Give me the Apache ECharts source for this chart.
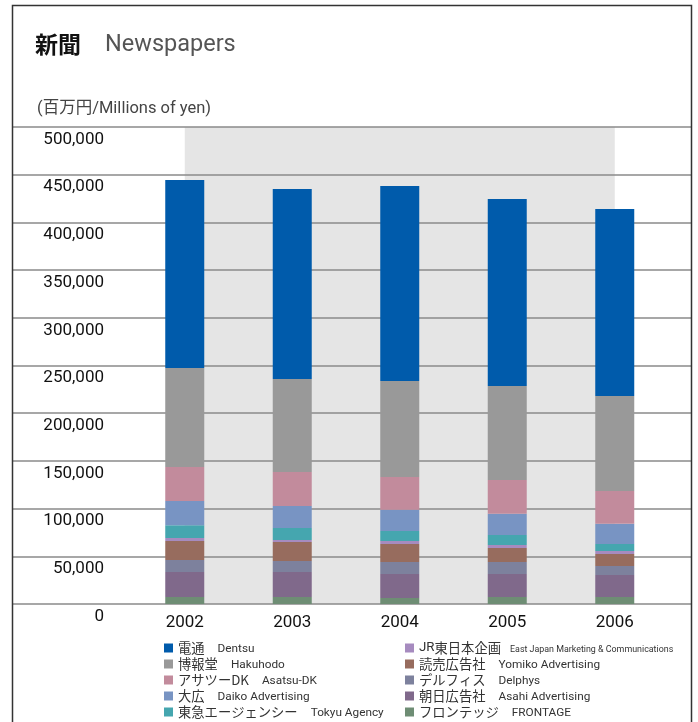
<!DOCTYPE html>
<html><head><meta charset="utf-8">
<script src="https://cdn.jsdelivr.net/npm/echarts@6/dist/echarts.min.js"></script>
<style>html,body{margin:0;padding:0;background:#fff}#c{width:698px;height:722px}</style>
</head><body><div id="c"></div>
<script>
const years = ['2002','2003','2004','2005','2006'];
const yTicks = [0,50000,100000,150000,200000,250000,300000,350000,400000,450000,500000];
// values in millions of yen
const dentsu   = [197000,199200,204400,196000,196000];
const hakuhodo = [103800, 97400,100600, 98500, 99600];
const asatsu   = [ 35600, 35700, 34200, 35300, 34200];
const daiko    = [ 25500, 23000, 22400, 22400, 21300];
const tokyu    = [ 13300, 12600, 10500, 10500,  7300];
const jreast   = [  3200,  2100,  3100,  3100,  3200];
const yomiko   = [ 19900, 19900, 18900, 14700, 12600];
const delphys  = [ 12600, 11600, 12600, 12600,  9400];
const asahi    = [ 26200, 26200, 25100, 24100, 23100];
const frontage = [  7300,  7300,  6300,  7300,  7300];

const jpNames = ['電通','博報堂','アサツーDK','大広','東急エージェンシー','JR東日本企画','読売広告社','デルフィス','朝日広告社','フロンテッジ'];
const enNames = ['Dentsu','Hakuhodo','Asatsu-DK','Daiko Advertising','Tokyu Agency','East Japan Marketing & Communications','Yomiko Advertising','Delphys','Asahi Advertising','FRONTAGE'];
const seriesData = [dentsu,hakuhodo,asatsu,daiko,tokyu,jreast,yomiko,delphys,asahi,frontage];
const colors = ['#005bab','#999999','#c28b9c','#7894c3','#45a6af','#a68bbf','#976c5e','#7d819d','#80698b','#6e8d74'];

const LATIN = "Roboto,'Noto Sans CJK JP',sans-serif";
const CJK = "'Noto Sans CJK JP',Roboto,sans-serif";

const series = [];
// stack from bottom: reverse legend order
for (let i = seriesData.length - 1; i >= 0; i--) {
  series.push({
    name: jpNames[i], type: 'bar', stack: 'total', xAxisIndex: 1, yAxisIndex: 1,
    barWidth: 39, z: 3,
    itemStyle: { color: colors[i] },
    data: seriesData[i]
  });
}
series.push({
  name: '_bg', type: 'line', xAxisIndex: 1, yAxisIndex: 1, data: [], z: 1, silent: true,
  markArea: { silent: true, itemStyle: { color: '#e5e5e5' },
    data: [[{ xAxis: years[0] }, { xAxis: years[years.length - 1] }]] }
});

function legendFmt(name) {
  const i = jpNames.indexOf(name);
  let jp = '{j|' + name + '}';
  if (name.indexOf('JR') === 0) jp = '{r|JR}{j|' + name.slice(2) + '}';
  return jp + (i === 5 ? '{h| }{s|' : '{g| }{e|') + enNames[i] + '}';
}
const legendText = {
  lineHeight: 16,
  rich: {
    j: { fontFamily: CJK, fontSize: 13.3, color: '#333', lineHeight: 16 },
    r: { fontFamily: LATIN, fontSize: 13.3, color: '#333', lineHeight: 16 },
    e: { fontFamily: LATIN, fontSize: 11.8, color: '#333', lineHeight: 16, padding: [3,0,0,0] },
    s: { fontFamily: LATIN, fontSize: 8.9, color: '#333', lineHeight: 16, padding: [3,0,0,0] },
    g: { width: 13, lineHeight: 16 },
    h: { width: 9, lineHeight: 16 }
  }
};

const chart = echarts.init(document.getElementById('c'));
chart.setOption({
  animation: false,
  color: colors,
  title: [
    { text: '{a|新聞}{g| }{b|Newspapers}', left: 30, top: 28,
      textStyle: { rich: {
        a: { fontFamily: CJK, fontSize: 23, fontWeight: 'bold', color: '#111' },
        g: { width: 24 },
        b: { fontFamily: LATIN, fontSize: 23.5, fontWeight: 'normal', color: '#555' } } } },
    { text: '(百万円/Millions of yen)', left: 32, top: 96,
      textStyle: { fontFamily: LATIN, fontSize: 16.5, fontWeight: 'normal', color: '#444' } }
  ],
  legend: [
    { data: jpNames.slice(0,5), orient: 'vertical', left: 164, top: 640, height: 120, padding: 0,
      itemWidth: 9, itemHeight: 9, itemGap: 0, itemTextGap: 8, icon: 'rect',
      formatter: legendFmt, textStyle: legendText, selectedMode: false },
    { data: jpNames.slice(5), orient: 'vertical', left: 405, top: 640, height: 120, padding: 0,
      itemWidth: 9, itemHeight: 9, itemGap: 0, itemTextGap: 7, icon: 'rect',
      formatter: legendFmt, textStyle: legendText, selectedMode: false }
  ],
  grid: [
    { left: 13, right: 7, top: 127, bottom: 118 },
    { left: 131, right: 29.5, top: 127, bottom: 118 }
  ],
  xAxis: [
    { gridIndex: 0, type: 'category', data: years, show: false },
    { gridIndex: 1, type: 'category', data: years,
      axisLine: { show: false }, axisTick: { show: false },
      axisLabel: { margin: 10, fontFamily: LATIN, fontSize: 17, color: '#111' } }
  ],
  yAxis: [
    { gridIndex: 0, type: 'value', min: 0, max: 500000, interval: 50000, z: 2,
      axisLine: { show: false }, axisTick: { show: false }, axisLabel: { show: false },
      splitLine: { show: true, lineStyle: { color: '#8a8a8a', width: 1.5 } } },
    { gridIndex: 1, type: 'value', min: 0, max: 500000, interval: 50000,
      axisLine: { show: false }, axisTick: { show: false }, splitLine: { show: false },
      axisLabel: { margin: 27, verticalAlign: 'top', padding: [4,0,0,0],
        fontFamily: LATIN, fontSize: 17, color: '#111',
        formatter: v => yTicks.includes(v) ? v.toLocaleString('en-US') : '' } }
  ],
  graphic: [
    { type: 'rect', silent: true, z: 10,
      shape: { x: 12.5, y: 5.5, width: 679, height: 740 },
      style: { fill: 'none', stroke: '#333', lineWidth: 1.5 } }
  ],
  series: series
});
</script></body></html>
